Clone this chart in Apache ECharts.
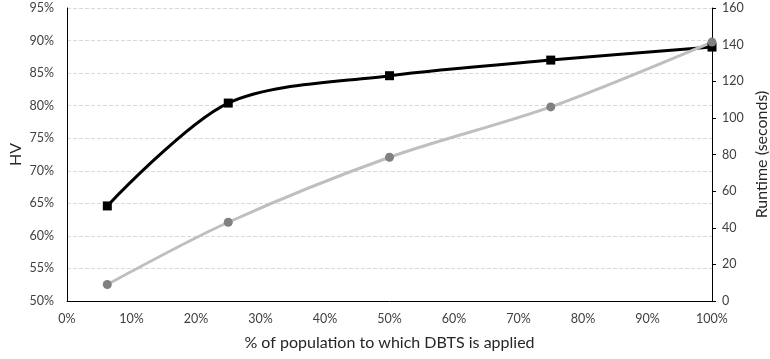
<!DOCTYPE html>
<html>
<head>
<meta charset="utf-8">
<script src="https://cdn.jsdelivr.net/npm/echarts@6/dist/echarts.min.js"></script>
<style>html,body{margin:0;padding:0;background:#fff}#c{width:770px;height:359px}</style>
</head>
<body>
<div id="c"></div>
<script>
var populationPct = [6.25, 25, 50, 75, 100];
var hvValues = [64.6, 80.4, 84.6, 87.0, 89.0];
var runtimeValues = [9, 43, 78.5, 106, 141.4];
var xTicks = [0, 10, 20, 30, 40, 50, 60, 70, 80, 90, 100];

var font = 'Lato, "Open Sans", sans-serif';
var chart = echarts.init(document.getElementById('c'), null, {renderer: 'canvas'});
chart.setOption({
  animation: false,
  textStyle: {fontFamily: font},
  grid: {left: 67, right: 58, top: 8, bottom: 58, containLabel: false, outerBoundsMode: 'none'},
  xAxis: {
    type: 'value', min: 0, max: 100, interval: 10,
    axisLine: {lineStyle: {color: '#000', width: 1}},
    axisTick: {show: false},
    splitLine: {show: false},
    axisLabel: {formatter: '{value}%', color: '#404040', fontSize: 12.5, margin: 11, fontFamily: font},
    name: '% of population to which DBTS is applied',
    nameLocation: 'middle', nameGap: 34, nameMoveOverlap: false,
    nameTextStyle: {fontSize: 16, color: '#262626', fontFamily: font}
  },
  yAxis: [{
    type: 'value', min: 50, max: 95, interval: 5,
    axisLine: {show: true, lineStyle: {color: '#000', width: 1}},
    axisTick: {show: false},
    splitLine: {show: true, lineStyle: {color: '#d9d9d9', type: 'dashed', width: 1}},
    axisLabel: {formatter: '{value}%', color: '#404040', fontSize: 12.5, margin: 13, fontFamily: font},
    name: 'HV', nameLocation: 'middle', nameGap: 43, nameRotate: 90, nameMoveOverlap: false,
    nameTextStyle: {fontSize: 16, color: '#262626', fontFamily: font}
  }, {
    type: 'value', min: 0, max: 160, interval: 20, position: 'right',
    axisLine: {show: true, lineStyle: {color: '#000', width: 1}},
    axisTick: {show: true, inside: false, length: 4, lineStyle: {color: '#000'}},
    splitLine: {show: false},
    axisLabel: {color: '#404040', fontSize: 12.5, margin: 10, fontFamily: font},
    name: 'Runtime (seconds)', nameLocation: 'middle', nameGap: 42, nameRotate: 90, nameMoveOverlap: false,
    nameTextStyle: {fontSize: 16, color: '#262626', fontFamily: font}
  }],
  series: [{
    type: 'line', yAxisIndex: 0, smooth: 0.3,
    data: populationPct.map(function (x, i) { return [x, hvValues[i]]; }),
    symbol: 'rect', symbolSize: 9,
    itemStyle: {color: '#000'},
    lineStyle: {color: '#000', width: 3}
  }, {
    type: 'line', yAxisIndex: 1, smooth: 0.3,
    data: populationPct.map(function (x, i) { return [x, runtimeValues[i]]; }),
    symbol: 'circle', symbolSize: 9,
    itemStyle: {color: '#808080'},
    lineStyle: {color: '#bfbfbf', width: 3}
  }]
});
</script>
</body>
</html>
